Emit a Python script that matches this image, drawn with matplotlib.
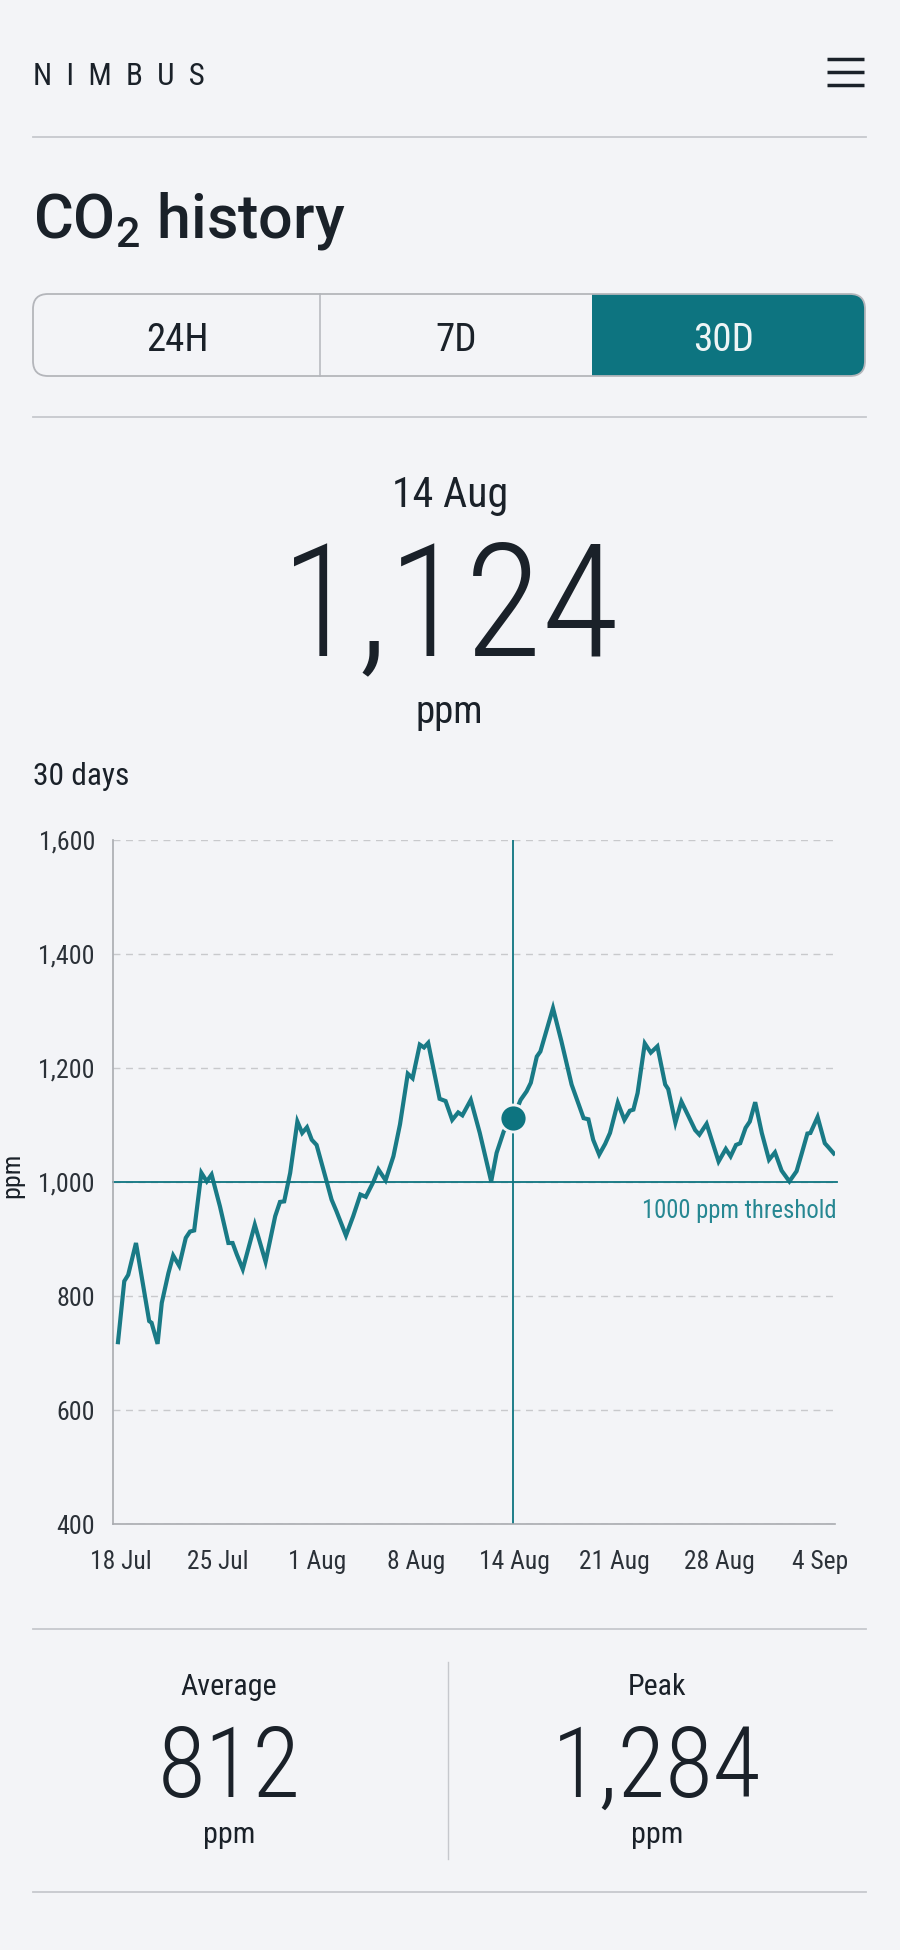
import matplotlib
matplotlib.use('Agg')
import matplotlib.pyplot as plt
from matplotlib.patches import FancyBboxPatch, Rectangle

# values, one sample = 6 h
sample = [0, 1.05, 1.7, 3, 5.2, 5.6, 6.6, 7.3, 8.4, 9.2, 10.2, 11.3, 12, 12.7, 13.9, 14.8, 15.6, 17, 18.4, 19.1,
          19.8, 20.8, 22.8, 24.6, 26.2, 27, 27.7, 28.7, 29.9, 30.7, 31.5, 32.3, 33.1, 34.8, 35.6, 36.4, 38, 39.2,
          40.4, 41.3, 42.6, 43.4, 44.6, 45.9, 47, 48.3, 49.1, 50.3, 51, 51.7, 53.6, 54.6, 55.7, 56.7, 57.4, 58.8,
          60.3, 62.2, 63.1, 64.3, 65.9, 67.1, 68.1, 68.8, 69.8, 70.4, 72.5, 73.9, 75.6, 77.6, 78.4, 79.2, 80.2,
          81.2, 82, 83.3, 84.4, 85.3, 85.9, 86.6, 87.8, 88.8, 89.9, 91.2, 91.7, 92.9, 93.9, 95.1, 96.2, 96.9, 98.1,
          100.1, 101.3, 102.1, 103, 103.7, 104.6, 105.3, 106.2, 107.3, 108.5, 109.5, 110.6, 111.9, 113.1, 113.9,
          114.9, 115.4, 116.6, 117.8, 118.4, 119.3]
co2 = [719, 826, 837, 893, 756, 753, 716, 788, 840, 871, 853, 902, 913, 915, 1016, 1001, 1013, 957, 893, 893,
       873, 847, 925, 860, 940, 965, 966, 1016, 1106, 1086, 1096, 1074, 1065, 1000, 969, 949, 906, 940,
       978, 974, 1001, 1022, 1003, 1045, 1101, 1190, 1182, 1241, 1236, 1244, 1146, 1142, 1109, 1122, 1117, 1144,
       1086, 1001, 1051, 1089, 1113, 1144, 1159, 1174, 1220, 1229, 1305, 1247, 1171, 1112, 1110, 1074, 1048,
       1067, 1086, 1139, 1109, 1125, 1127, 1156, 1243, 1227, 1238, 1171, 1163, 1104, 1141, 1115, 1091, 1083, 1102,
       1036, 1058, 1045, 1065, 1068, 1095, 1106, 1140, 1086, 1039, 1052, 1020, 1001, 1019, 1048,
       1085, 1086, 1114, 1068, 1061, 1050]
x_ticks = [0.4, 16.7, 33.2, 49.7, 66, 82.8, 100.2, 117]
x_labels = ['18 Jul', '25 Jul', '1 Aug', '8 Aug', '14 Aug', '21 Aug', '28 Aug', '4 Sep']
y_ticks = [400, 600, 800, 1000, 1200, 1400, 1600]
y_labels = ['400', '600', '800', '1,000', '1,200', '1,400', '1,600']
marker_sample = 65.9
marker_value = 1113
threshold = 1000

BG = '#f3f4f7'
INK = '#1a2129'
TEAL = '#0d7480'
RULE = '#c6c8cd'

plt.rcParams['font.family'] = ['Roboto Condensed', 'DejaVu Sans']
plt.rcParams['mathtext.default'] = 'regular'


def pt(px):
    return px * 0.72


fig = plt.figure(figsize=(9, 19.5), dpi=100, facecolor=BG)

# page layer in pixels
page = fig.add_axes([0, 0, 1, 1])
page.set_xlim(0, 900)
page.set_ylim(1950, 0)
page.axis('off')

for y in [137, 417, 1629, 1892]:
    page.plot([33, 866], [y, y], color=RULE, lw=1.3)
page.plot([448, 448], [1662, 1859], color=RULE, lw=1)
for y in [59, 72, 85]:
    page.plot([827, 864], [y, y], color=INK, lw=2.5, solid_capstyle='butt')

page.text(33, 85, 'N  I  M  B  U  S', fontsize=pt(31), color=INK, va='baseline')
page.text(33, 238, 'CO$_2$ history', fontsize=pt(61), color=INK, va='baseline',
          family=['Roboto', 'DejaVu Sans'], fontweight='medium')

box = FancyBboxPatch((33, 294), 832, 82, boxstyle='round,pad=0,rounding_size=15',
                     fc='none', ec='#b4b6bb', lw=1.3, zorder=3)
page.add_patch(box)
active = Rectangle((592, 294), 273, 82, fc=TEAL, ec='none', zorder=2)
page.add_patch(active)
active.set_clip_path(box)
page.plot([320, 320], [294, 376], color='#b4b6bb', lw=1.1)
page.text(177, 351, '24H', fontsize=pt(39), color=INK, ha='center', va='baseline')
page.text(456, 351, '7D', fontsize=pt(39), color=INK, ha='center', va='baseline')
page.text(724, 351, '30D', fontsize=pt(39), color='#eef5f6', ha='center', va='baseline', zorder=4)

page.text(450, 507, '14 Aug', fontsize=pt(42), color=INK, ha='center', va='baseline')
page.text(450, 655, '1,124', fontsize=pt(158), color=INK, ha='center', va='baseline', fontweight='light')
page.text(449, 723, 'ppm', fontsize=pt(39), color=INK, ha='center', va='baseline')
page.text(33, 785, '30 days', fontsize=pt(31.5), color=INK, va='baseline')

for cx, label, value in [(229, 'Average', '812'), (657, 'Peak', '1,284')]:
    page.text(cx, 1695, label, fontsize=pt(30), color=INK, ha='center', va='baseline')
    page.text(cx, 1797, value, fontsize=pt(98), color=INK, ha='center', va='baseline', fontweight='light')
    page.text(cx, 1843, 'ppm', fontsize=pt(30), color=INK, ha='center', va='baseline')

# chart, axes box 113..835 x 840..1524 px
ax = fig.add_axes([113 / 900, 1 - 1524 / 1950, 722 / 900, 684 / 1950])
ax.patch.set_alpha(0)
ax.set_xlim(-0.83, 119.5)
ax.set_ylim(400, 1600)
for side in ['top', 'right']:
    ax.spines[side].set_visible(False)
for side in ['left', 'bottom']:
    ax.spines[side].set_color('#a9abb0')
    ax.spines[side].set_linewidth(1.2)
ax.grid(axis='y', color='#c8c9cc', lw=1, ls=(0, (5, 4)))
ax.set_axisbelow(True)
ax.set_xticks(x_ticks, x_labels)
ax.set_yticks(y_ticks, y_labels)
ax.tick_params(axis='x', length=0, pad=pt(26), labelsize=pt(25.5), labelcolor='#2b3138')
ax.tick_params(axis='y', length=0, pad=pt(18), labelsize=pt(26), labelcolor='#2b3138')
ax.set_ylabel('ppm', fontsize=pt(26), color=INK)
ax.yaxis.set_label_coords(-0.123, 0.51)

ax.axhline(threshold, xmax=1.003, color=TEAL, lw=1.3, clip_on=False, zorder=2)
ax.axvline(marker_sample, color=TEAL, lw=1.3, zorder=2)
ax.plot(sample, co2, color=TEAL, lw=3, solid_joinstyle='miter', zorder=3, alpha=0.95)
ax.plot([marker_sample], [marker_value], 'o', ms=pt(27), mfc=TEAL, mec=BG, mew=2, zorder=4)
ax.text(119.8, 937, '1000 ppm threshold', fontsize=pt(24.6), color='#268792', ha='right', va='baseline',
        clip_on=False)

fig.savefig('out.png', dpi=100, facecolor=BG)
